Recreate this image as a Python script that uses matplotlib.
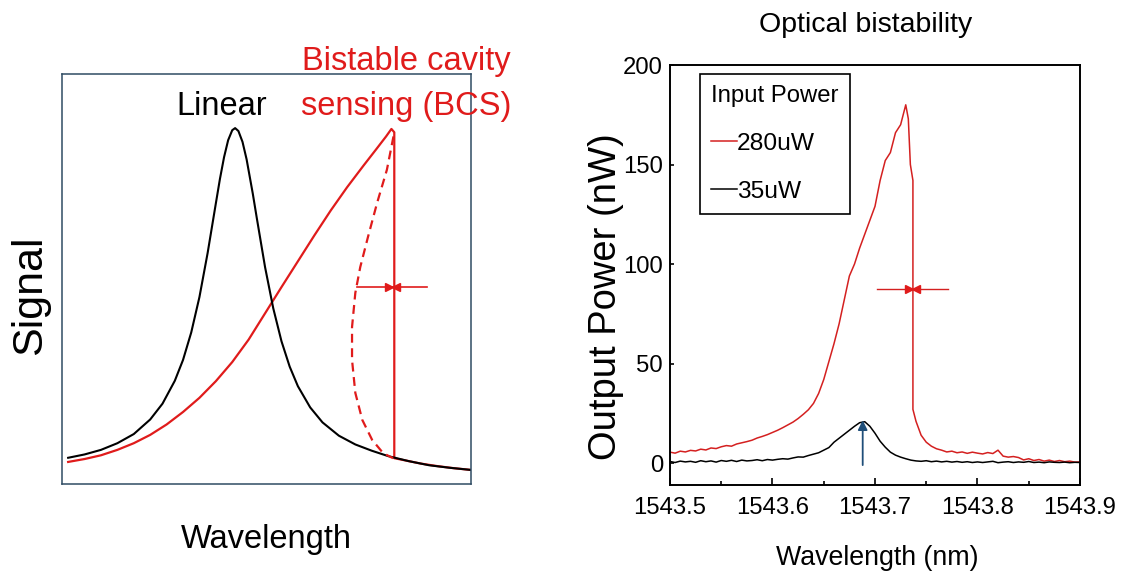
import numpy as np
import matplotlib
matplotlib.use('Agg')
import matplotlib.pyplot as plt
from matplotlib import font_manager

# ---- left panel: schematic (arbitrary units) ----
lin_x = [2, 6, 10, 14, 18, 22, 25, 28, 30, 32, 34, 36, 38, 39, 40, 41, 42, 42.7,
         43.5, 44.5, 45.5, 47, 48, 50, 52, 54, 56, 58, 61, 64, 68, 72, 76, 80,
         85, 90, 95, 100]
lin_y = [6.8, 7.6, 8.7, 10.3, 12.5, 16.0, 19.8, 25.3, 30.3, 36.9, 45.4, 56.0,
         67.9, 73.8, 79.0, 83.1, 85.5, 86.0, 85.3, 82.7, 78.5, 70.3, 64.3, 52.6,
         42.7, 34.8, 28.7, 24.0, 18.9, 15.3, 12.1, 10.0, 8.5, 7.2, 6.0, 5.0, 4.4,
         3.9]
bcs_x = [2, 6, 10, 14, 18, 22, 26, 30, 34, 38, 42, 46, 50, 54, 58, 62, 66, 70,
         74, 77, 79.5, 80.8, 81.5, 81.5, 84, 88, 92, 96, 100]
bcs_y = [5.8, 6.5, 7.4, 8.7, 10.3, 12.3, 14.8, 17.8, 21.2, 25.2, 29.8, 35.2,
         41.5, 47.8, 54.0, 60.2, 66.2, 71.8, 77.0, 80.8, 84.0, 85.8, 85.0, 6.7,
         6.2, 5.4, 4.8, 4.3, 3.9]
unstable_x = [81.3, 79.7, 77.3, 75.1, 73.2, 72.0, 71.2, 71.2, 72.0, 73.7, 76.1,
              78.8, 81.2]
unstable_y = [84.0, 76.0, 68.0, 59.9, 52.6, 46.4, 38.2, 30.3, 22.4, 15.9, 11.1,
              7.9, 6.7]
left_span = [72.4, 89.5]
left_span_y = 47.8
left_jump_x = 81.5

# ---- right panel: measured spectra ----
wl_grid = np.round(np.arange(1543.500, 1543.9001, 0.005), 4)
p35 = [0.8, 0.3, 1.0, 0.6, 0.9, 0.4, 1.2, 0.7, 1.1, 0.5, 1.3, 0.9, 1.4, 0.8,
       1.5, 1.1, 1.3, 1.7, 1.2, 1.8, 1.5,
       1.9, 2.2, 2.0, 2.6, 3.1, 3.0, 3.8, 4.5, 5.2, 6.5, 7.8, 10.5, 12.5, 14.5,
       16.5, 18.5, 20.3, 20.8, 18.5, 15.0,
       11.0, 8.0, 5.5, 4.0, 3.0, 2.2, 1.5, 1.1, 0.9, 1.2, 0.7, 1.0, 0.6, 0.9,
       0.5, 0.8, 0.4, 0.7, 0.3, 0.6,
       0.3, 0.6, 0.9, 0.2, 0.5, 0.7, 0.3, 0.6, 0.4, 0.8, 0.3, 0.5, 0.2, 0.6,
       0.4, 0.3, 0.5, 0.2, 0.4, 0.3]
p280_rise = [5.5, 5.0, 6.0, 5.6, 6.4, 6.1, 7.0, 6.6, 7.6, 7.3,
             8.2, 8.8, 8.5, 9.6, 10.2, 10.8, 11.5, 12.6, 13.4, 14.3,
             15.4, 16.5, 17.8, 19.2, 20.6, 22.4, 24.5, 26.8, 30.0, 35.0,
             42.0, 51.0, 60.0, 70.0, 82.0, 94.0, 100.0, 108.0, 115.0, 122.0,
             129.0, 142.0, 152.0, 156.0, 166.0, 170.0, 180.0]
drop_wl = [1543.7325, 1543.7345, 1543.737, 1543.737]
drop_p = [173.0, 150.0, 142.0, 27.0]
p280_tail = [21.0, 14.0, 10.5, 8.5, 7.2, 6.5, 5.6, 6.0, 5.2, 5.6,
             4.9, 5.5, 5.0, 4.6, 5.3, 4.8, 6.5, 3.5, 3.0, 3.3,
             2.8, 1.6, 2.2, 1.3, 1.8, 1.0, 1.5, 0.8, 1.3, 0.7,
             1.0, 0.5, 0.6]
wl_280 = list(wl_grid[:47]) + drop_wl + list(wl_grid[48:])
p280 = p280_rise + drop_p + p280_tail
right_span = [1543.702, 1543.771]
right_span_y = 87.4
right_jump_x = 1543.737
probe_wl = 1543.688
probe_p = [-1.0, 21.5]

RED = '#e01b1b'
RED2 = '#d42020'

installed = {f.name for f in font_manager.fontManager.ttflist}
if 'Liberation Sans Narrow' in installed:
    narrow = ['Liberation Sans Narrow', 'DejaVu Sans']
    k = 1.0
else:
    narrow = ['Liberation Sans', 'DejaVu Sans']
    k = 0.82
plt.rcParams['font.family'] = ['Liberation Sans', 'DejaVu Sans']

W, H = 1129, 575
fig = plt.figure(figsize=(W / 100, H / 100), dpi=100)


def fx(px):
    return px / W


def fy(py):
    return 1 - py / H


# left schematic
ax1 = fig.add_axes([fx(62), fy(484), fx(471) - fx(62), fy(74) - fy(484)])
ax1.plot(bcs_x, bcs_y, '-', color=RED, lw=1.6)
ax1.plot(lin_x, lin_y, '-', color='black', lw=1.5)
ax1.plot(unstable_x, unstable_y, color=RED, lw=1.6, linestyle=(0, (4, 2.5)))
ax1.plot(left_span, [left_span_y] * 2, '-', color=RED, lw=1.2)
ax1.plot(left_jump_x - 1.3, left_span_y, '>', color=RED, ms=6)
ax1.plot(left_jump_x + 0.5, left_span_y, '<', color=RED, ms=6)
ax1.set_xlim(0.5, 100.2)
ax1.set_ylim(0.5, 99)
ax1.set_xticks([])
ax1.set_yticks([])
for s in ax1.spines.values():
    s.set_color('#2f4b63')
    s.set_linewidth(1.1)

fig.text(fx(222), fy(115), 'Linear', ha='center', va='baseline',
         fontsize=23.5, color='black')
fig.text(fx(406), fy(70), 'Bistable cavity', ha='center', va='baseline',
         fontsize=23.5, color=RED)
fig.text(fx(406), fy(115), 'sensing (BCS)', ha='center', va='baseline',
         fontsize=23.5, color=RED)
fig.text(fx(30), fy(295), 'Signal', ha='center', va='center', rotation=90,
         fontsize=31)
fig.text(fx(266), fy(548), 'Wavelength', ha='center', va='baseline',
         fontsize=23.5)

# right measurement
ax2 = fig.add_axes([fx(670), fy(485), fx(1080) - fx(670), fy(65) - fy(485)])
ax2.plot(wl_280, p280, '-', color=RED2, lw=1.1, label='280uW')
ax2.plot(wl_grid, p35, '-', color='black', lw=1.1, label='35uW')
ax2.plot(right_span, [right_span_y] * 2, '-', color=RED2, lw=1.0)
ax2.plot(right_jump_x - 0.0035, right_span_y, '>', color=RED, ms=6)
ax2.plot(right_jump_x + 0.0030, right_span_y, '<', color=RED, ms=6)
ax2.annotate('', xy=(probe_wl, probe_p[1]), xytext=(probe_wl, probe_p[0]),
             arrowprops=dict(arrowstyle='-|>', color='#1f4e79', lw=1.3,
                             mutation_scale=14, shrinkA=0, shrinkB=0))
ax2.set_xlim(1543.5, 1543.9)
ax2.set_ylim(-11, 200)
ax2.set_xticks([1543.5, 1543.6, 1543.7, 1543.8, 1543.9])
ax2.set_xticks([1543.55, 1543.65, 1543.75, 1543.85], minor=True)
ax2.set_xticklabels(['1543.5', '1543.6', '1543.7', '1543.8', '1543.9'])
ax2.set_yticks([0, 50, 100, 150, 200])
ax2.tick_params(axis='both', which='both', direction='in', width=1.2)
ax2.tick_params(axis='x', which='major', length=5, pad=9)
ax2.tick_params(axis='x', which='minor', length=3)
ax2.tick_params(axis='y', length=3, pad=5)
for lab in ax2.get_xticklabels() + ax2.get_yticklabels():
    lab.set_family(narrow)
    lab.set_fontsize(21 * k)
for s in ax2.spines.values():
    s.set_linewidth(1.4)

leg = ax2.legend(loc='upper left', bbox_to_anchor=(fx(700), fy(74)),
                 bbox_transform=fig.transFigure, borderaxespad=0,
                 title='Input Power', alignment='left', fancybox=False,
                 edgecolor='black', framealpha=1, handlelength=1.05,
                 handletextpad=0.0, labelspacing=1.05, borderpad=0.45,
                 prop={'family': narrow, 'size': 21.5 * k})
leg.get_title().set_family(narrow)
leg.get_title().set_fontsize(21 * k)
leg.get_frame().set_linewidth(1.2)

fig.text(fx(866), fy(25), 'Optical bistability', ha='center', va='center',
         fontsize=25 * k, family=narrow)
fig.text(fx(606), fy(297), 'Output Power (nW)', ha='center', va='center',
         rotation=90, fontsize=33.5 * k, family=narrow)
fig.text(fx(877), fy(565), 'Wavelength (nm)', ha='center', va='baseline',
         fontsize=23.5 * k, family=narrow)

fig.savefig('out.png', dpi=100)
